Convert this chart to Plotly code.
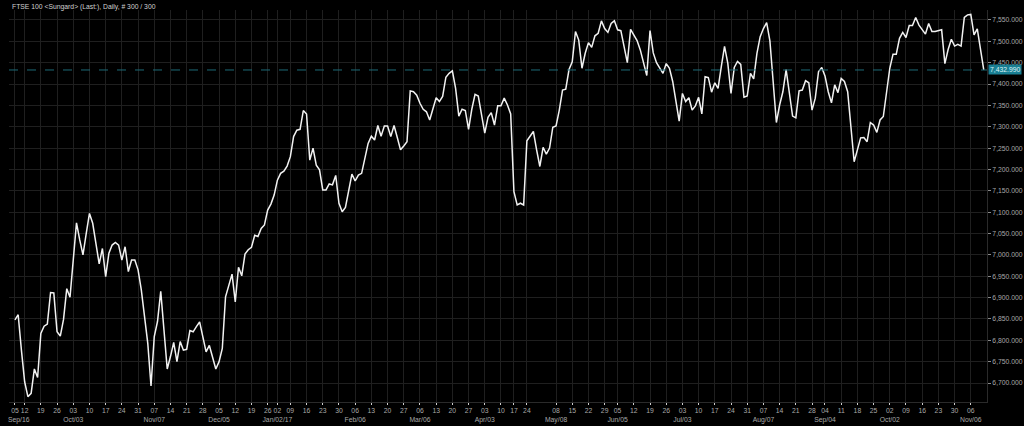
import pandas as pd
import plotly.graph_objects as go

# ---- data ----
first_day = "2016-09-07"
last_day = "2017-11-10"
uk_holidays = ["2016-12-26", "2016-12-27", "2017-01-02", "2017-04-14",
               "2017-04-17", "2017-05-01", "2017-05-29", "2017-08-28"]

close = [
    6848, 6860, 6777, 6703, 6668, 6676, 6733, 6713, 6816, 6833,
    6838, 6912, 6911, 6820, 6810, 6849, 6921, 6901, 6988, 7075,
    7035, 7000, 7050, 7097, 7074, 7023, 6979, 7015, 6949, 7004,
    7023, 7029, 7023, 6988, 7019, 6961, 6988, 6988, 6965, 6918,
    6855, 6793, 6693, 6809, 6844, 6915, 6824, 6733, 6762, 6795,
    6750, 6797, 6777, 6779, 6823, 6820, 6832, 6843, 6808, 6773,
    6788, 6758, 6733, 6750, 6781, 6902, 6931, 6955, 6890, 6971,
    6951, 7002, 7012, 7018, 7046, 7043, 7062, 7070, 7105, 7119,
    7140, 7175, 7191, 7196, 7208, 7230, 7277, 7292, 7294, 7338,
    7330, 7222, 7250, 7210, 7199, 7152, 7152, 7166, 7164, 7186,
    7121, 7101, 7111, 7148, 7189, 7173, 7187, 7191, 7230, 7261,
    7278, 7269, 7303, 7278, 7302, 7302, 7277, 7303, 7275, 7246,
    7255, 7265, 7384, 7382, 7374, 7355, 7341, 7335, 7316, 7341,
    7368, 7359, 7371, 7416, 7425, 7431, 7390, 7325, 7341, 7338,
    7294, 7341, 7376, 7372, 7331, 7285, 7322, 7333, 7304, 7349,
    7349, 7367, 7351, 7330, 7148, 7117, 7121, 7117, 7267, 7277,
    7289, 7246, 7207, 7252, 7236, 7250, 7299, 7302, 7339, 7386,
    7388, 7434, 7452, 7523, 7503, 7437, 7472, 7497, 7486, 7513,
    7519, 7548, 7530, 7521, 7542, 7548, 7527, 7525, 7488, 7450,
    7528, 7515, 7502, 7480, 7452, 7420, 7525, 7473, 7450, 7439,
    7425, 7448, 7437, 7406, 7363, 7313, 7378, 7359, 7368, 7339,
    7349, 7369, 7330, 7417, 7415, 7381, 7403, 7390, 7441, 7488,
    7449, 7378, 7439, 7453, 7446, 7369, 7372, 7425, 7412, 7472,
    7511, 7530, 7544, 7501, 7406, 7310, 7351, 7382, 7434, 7382,
    7325, 7321, 7384, 7386, 7408, 7403, 7339, 7367, 7429, 7439,
    7419, 7382, 7356, 7398, 7380, 7413, 7406, 7382, 7308, 7218,
    7246, 7274, 7275, 7265, 7310, 7304, 7287, 7316, 7324, 7378,
    7437, 7470, 7470, 7507, 7521, 7509, 7537, 7537, 7556, 7538,
    7528, 7517, 7542, 7523, 7523, 7525, 7527, 7448, 7481, 7505,
    7489, 7493, 7489, 7556, 7562, 7563, 7515, 7529, 7481, 7432.99,
]

# week labels (Mondays) shown on the axis; 2017-05-01 has no label
week_first = "2016-09-05"
week_last = "2017-11-06"
weeks_without_label = ["2017-05-01"]
month_labels = {
    "2016-09-05": "&nbsp;&nbsp;&nbsp;&nbsp;Sep/16", "2016-10-03": "Oct/03",
    "2016-11-07": "Nov/07", "2016-12-05": "Dec/05", "2017-01-02": "Jan/02/17",
    "2017-02-06": "Feb/06", "2017-03-06": "Mar/06", "2017-04-03": "Apr/03",
    "2017-05-08": "May/08", "2017-06-05": "Jun/05", "2017-07-03": "Jul/03",
    "2017-08-07": "Aug/07", "2017-09-04": "Sep/04", "2017-10-02": "Oct/02",
    "2017-11-06": "Nov/06",
}
title_text = "FTSE 100 &lt;Sungard&gt; (Last:), Daily, # 300 / 300"

# ---- build trading-day axis ----
hol = pd.to_datetime(uk_holidays)
dates = [d for d in pd.bdate_range(first_day, last_day) if d not in hol]
dates = pd.DatetimeIndex(dates)
x_idx = list(range(len(close)))

tickvals, ticktext = [], []
for m in pd.date_range(week_first, week_last, freq="W-MON"):
    key = m.strftime("%Y-%m-%d")
    if key in weeks_without_label:
        continue
    pos = int(dates.searchsorted(m))
    txt = m.strftime("%d")
    if key in month_labels:
        txt += "<br>" + month_labels[key]
    else:
        txt += "<br> "
    tickvals.append(pos)
    ticktext.append(txt)

last_val = close[-1]
FONT = "Liberation Sans, Arial, sans-serif"
GRID = "#1f1f1f"
FS = 6.8

fig = go.Figure()
fig.add_trace(go.Scatter(
    x=x_idx, y=close, mode="lines",
    line=dict(color="#f2f2f2", width=1.5),
    hoverinfo="skip", showlegend=False,
))

fig.add_shape(type="line", xref="paper", x0=0, x1=1, yref="y",
              y0=last_val, y1=last_val,
              line=dict(color="#1d6b78", width=1, dash="dash"))

fig.add_annotation(xref="paper", x=1, xanchor="left", xshift=1,
                   yref="y", y=last_val, yanchor="middle",
                   text=f"{last_val:,.3f}", showarrow=False,
                   bgcolor="#197f93", borderpad=1,
                   font=dict(family=FONT, size=FS, color="#dff4f8"))

fig.add_annotation(xref="paper", x=0, xanchor="left", xshift=2,
                   yref="paper", y=1, yanchor="bottom", yshift=-2,
                   text=title_text, showarrow=False, borderpad=0,
                   font=dict(family=FONT, size=FS, color="#d0d0d0"))

fig.update_layout(
    width=1024, height=426,
    margin=dict(l=0, r=37, t=10, b=24),
    paper_bgcolor="#000000", plot_bgcolor="#000000",
    font=dict(family=FONT, size=FS, color="#a8a8a8"),
    xaxis=dict(
        range=[-1.83, 300.0], tickmode="array",
        tickvals=tickvals, ticktext=ticktext, tickangle=0,
        ticklabeloverflow="allow",
        showgrid=True, gridcolor=GRID, gridwidth=1,
        zeroline=False, ticks="outside", ticklen=2, tickcolor="#cfcfcf",
        showline=True, linecolor="#2a2a2a", linewidth=1,
        tickfont=dict(family=FONT, size=FS, color="#a8a8a8"),
        fixedrange=True,
    ),
    yaxis=dict(
        side="right", range=[6655.6, 7573.4],
        tick0=6700, dtick=50, tickformat=",.3f",
        showgrid=True, gridcolor=GRID, gridwidth=1,
        zeroline=False, ticks="outside", ticklen=3, tickcolor="#8a8a8a",
        showline=True, linecolor="#2a2a2a", linewidth=1,
        tickfont=dict(family=FONT, size=FS, color="#a8a8a8"),
        fixedrange=True,
    ),
)

fig.write_html(
    "out.html",
    config={"displayModeBar": False},
    post_script="document.body.style.margin='0';document.body.style.background='#000';",
)
